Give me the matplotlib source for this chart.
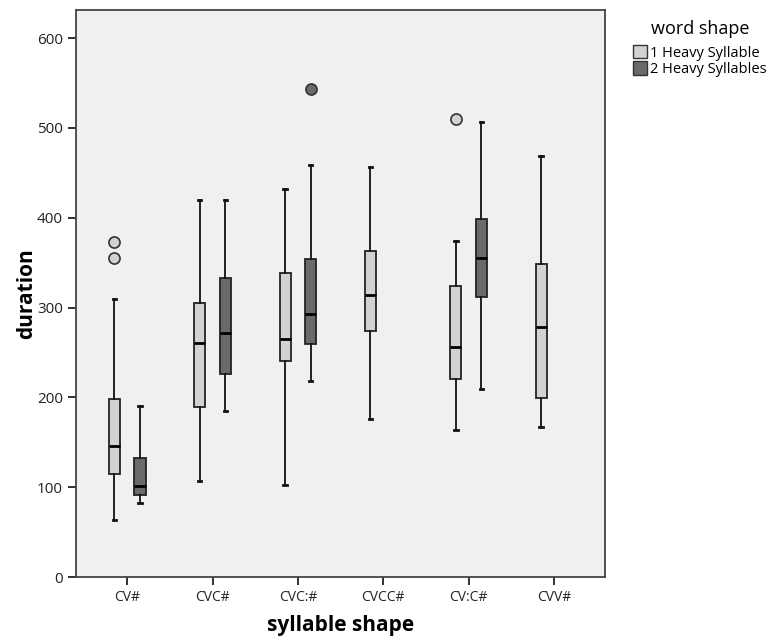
import matplotlib
matplotlib.use("Agg")
import matplotlib.pyplot as plt
from matplotlib.patches import Patch
import numpy as np

plt.rcParams['font.family'] = ['Open Sans', 'DejaVu Sans']

# syllable shapes on the x axis
categories = ['CV#', 'CVC#', 'CVC:#', 'CVCC#', 'CV:C#', 'CVV#']
groups = ['1 Heavy Syllable', '2 Heavy Syllables']

# box stats, one list per group (None = no box)
# 1 Heavy Syllable
light_whislo = [64, 107, 103, 176, 164, 167]
light_q1 = [115, 189, 240, 274, 221, 199]
light_med = [146, 261, 265, 314, 256, 278]
light_q3 = [198, 305, 339, 363, 324, 348]
light_whishi = [309, 420, 432, 457, 374, 469]
light_fliers = [[373, 355], [], [], [], [510], []]

# 2 Heavy Syllables
dark_whislo = [83, 185, 218, None, 209, None]
dark_q1 = [91, 226, 259, None, 312, None]
dark_med = [101, 272, 293, None, 355, None]
dark_q3 = [133, 333, 354, None, 399, None]
dark_whishi = [191, 420, 459, None, 507, None]
dark_fliers = [[], [], [543], [], [], []]

light_col = '#d2d2d2'
dark_col = '#6a6a6a'


def make_stats(lo, q1, med, q3, hi, fl):
    stats = []
    for i in range(len(lo)):
        if med[i] is None:
            continue
        stats.append(dict(whislo=lo[i], q1=q1[i], med=med[i], q3=q3[i],
                          whishi=hi[i], fliers=fl[i]))
    return stats


fig = plt.figure(figsize=(7.68, 6.37), dpi=100)
ax = fig.add_axes([0.099, 0.094, 0.689, 0.890])
ax.set_facecolor('#f0f0f0')

x = np.arange(len(categories))
offset = 0.15
width = 0.13

for stats_args, col, off in [
    ((light_whislo, light_q1, light_med, light_q3, light_whishi, light_fliers), light_col, -offset),
    ((dark_whislo, dark_q1, dark_med, dark_q3, dark_whishi, dark_fliers), dark_col, offset),
]:
    stats = make_stats(*stats_args)
    pos = [x[i] + off for i in range(len(categories)) if stats_args[2][i] is not None]
    ax.bxp(stats, positions=pos, widths=width, patch_artist=True,
           showfliers=True, manage_ticks=False,
           boxprops=dict(facecolor=col, edgecolor='#222222', linewidth=1.3),
           medianprops=dict(color='black', linewidth=2),
           whiskerprops=dict(color='#111111', linewidth=1.3),
           capprops=dict(color='#111111', linewidth=2),
           capwidths=0.04,
           flierprops=dict(marker='o', markerfacecolor=col,
                           markeredgecolor='#333333', markersize=8,
                           markeredgewidth=1.2))

ax.set_xlim(-0.6, len(categories) - 0.4)
ax.set_ylim(0, 631)
ax.set_xticks(x)
ax.set_xticklabels(categories, fontsize=10, color='#222222')
ax.set_yticks(np.arange(0, 601, 100))
ax.tick_params(axis='y', labelsize=11, colors='#222222', length=6, width=1.3)
ax.tick_params(axis='x', length=6, width=1.3, colors='#222222')
for s in ax.spines.values():
    s.set_color('#444444')
    s.set_linewidth(1.3)

ax.set_xlabel('syllable shape', fontsize=15, fontweight='bold', labelpad=7)
ax.set_ylabel('duration', fontsize=15, fontweight='bold', labelpad=0)

fig.text(0.912, 0.955, 'word shape', fontsize=13, ha='center', va='center')
handles = [Patch(facecolor=light_col, edgecolor='#333333', linewidth=1),
           Patch(facecolor=dark_col, edgecolor='#333333', linewidth=1)]
leg = fig.legend(handles, groups, loc='upper left',
                 bbox_to_anchor=(0.824, 0.929), frameon=False, fontsize=10.5,
                 handlelength=1.0, handleheight=1.0,
                 handletextpad=0.2, labelspacing=0.05, borderaxespad=0,
                 borderpad=0)

fig.savefig('out.png', dpi=100)
